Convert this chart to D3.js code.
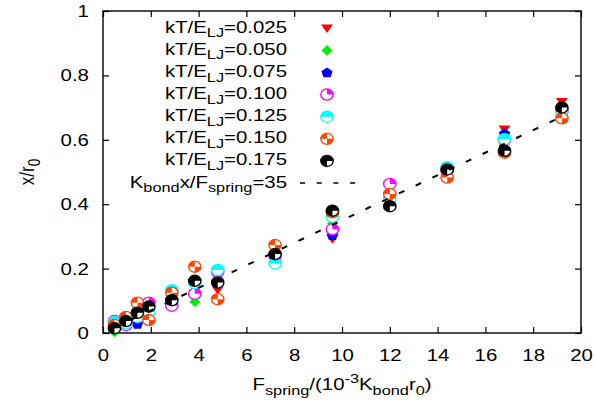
<!DOCTYPE html>
<html>
<head>
<meta charset="utf-8">
<script src="https://cdn.jsdelivr.net/npm/d3@7"></script>
<style>
  html, body { margin: 0; padding: 0; background: #fff; }
  svg { display: block; }
</style>
</head>
<body>
<svg id="chart" width="595" height="405"></svg>
<script>
// Applied spring force, in units of 1e-3 K_bond r0
const forces = [0.48, 0.96, 1.44, 1.92, 2.88, 3.84, 4.8, 7.2, 9.6, 12, 14.4, 16.8, 19.2];

// Extension x/r0 for each temperature kT/E_LJ
const ext025 = [0.015, 0.020, 0.045, 0.050, 0.085, 0.110, 0.133, 0.230, 0.292, 0.420, 0.500, 0.632, 0.718];
const ext050 = [0.003, 0.020, 0.050, 0.070, 0.100, 0.097, 0.180, 0.235, 0.340, 0.430, 0.505, 0.615, 0.700];
const ext075 = [0.020, 0.025, 0.028, 0.045, 0.100, 0.128, 0.185, 0.225, 0.304, 0.435, 0.500, 0.620, 0.700];
const ext100 = [0.037, 0.025, 0.060, 0.094, 0.085, 0.122, 0.190, 0.240, 0.322, 0.463, 0.505, 0.600, 0.690];
const ext125 = [0.034, 0.030, 0.050, 0.066, 0.133, 0.155, 0.196, 0.216, 0.361, 0.418, 0.515, 0.602, 0.687];
const ext150 = [0.025, 0.050, 0.094, 0.040, 0.125, 0.206, 0.105, 0.273, 0.375, 0.432, 0.483, 0.560, 0.667];
const ext175 = [0.015, 0.037, 0.063, 0.082, 0.102, 0.162, 0.157, 0.245, 0.380, 0.394, 0.508, 0.566, 0.700];

const temperatures = ["0.025", "0.050", "0.075", "0.100", "0.125", "0.150", "0.175"];
const extensions = [ext025, ext050, ext075, ext100, ext125, ext150, ext175];

// Linear reference: K_bond x / F_spring = 35, drawn across the sampled force range
const fitRatio = 35;
const fitForces = [0.48, 19.2];

const xTicks = [0, 2, 4, 6, 8, 10, 12, 14, 16, 18, 20];
const xTickLabels = ["0", "2", "4", "6", "8", "10", "12", "14", "16", "18", "20"];
const yTicks = [0, 0.2, 0.4, 0.6, 0.8, 1];
const yTickLabels = ["0", "0.2", "0.4", "0.6", "0.8", "1"];

// ---- styling ----
const colors = ["#ff0000", "#00ee00", "#0000ff", "#ff00ff", "#00ffff", "#ff4500", "#000000"];
const shapes = ["triDown", "diamond", "pentagon", "circTR", "circTop", "circChecker", "circThree"];
const FONT = "'Liberation Sans', Arial, Helvetica, sans-serif";
const FS = 17;       // base font size
const SX = 1.2;      // horizontal glyph stretch

const svg = d3.select("#chart");
svg.append("rect").attr("width", 595).attr("height", 405).attr("fill", "#fff");

const plot = { left: 103, right: 581, top: 11, bottom: 333 };
const x = d3.scaleLinear().domain([0, 20]).range([plot.left, plot.right]);
const y = d3.scaleLinear().domain([0, 1]).range([plot.bottom, plot.top]);

// Text with gnuplot-style sub/superscripts; parts = [[text, "sub"|"sup"|undefined], ...]
function richText(parent, parts, px, py, anchor, rotate) {
  const g = parent.append("g")
    .attr("transform", `translate(${px},${py}) scale(${SX},1)` + (rotate ? ` rotate(${rotate})` : ""));
  const t = g.append("text")
    .attr("x", 0).attr("y", 0)
    .attr("text-anchor", anchor)
    .attr("font-family", FONT)
    .attr("font-size", FS)
    .attr("fill", "#000");
  let shift = 0;
  parts.forEach(([s, kind]) => {
    let target = 0;
    if (kind === "sub") target = 0.27 * FS;
    if (kind === "sup") target = -0.42 * FS;
    const sp = t.append("tspan").attr("dy", target - shift).text(s);
    if (kind) sp.attr("font-size", FS * 0.8);
    shift = target;
  });
  return g;
}

// ---- axes (ticks point inward on all four sides) ----
const axB = svg.append("g").attr("transform", `translate(0,${plot.bottom})`)
  .call(d3.axisBottom(x).tickValues(xTicks).tickFormat((d, i) => xTickLabels[i])
    .tickSizeInner(-6).tickSizeOuter(0).tickPadding(16));
const axT = svg.append("g").attr("transform", `translate(0,${plot.top})`)
  .call(d3.axisTop(x).tickValues(xTicks).tickFormat("").tickSizeInner(-6).tickSizeOuter(0));
const axL = svg.append("g").attr("transform", `translate(${plot.left},0)`)
  .call(d3.axisLeft(y).tickValues(yTicks).tickFormat((d, i) => yTickLabels[i])
    .tickSizeInner(-6).tickSizeOuter(0).tickPadding(11.7));
const axR = svg.append("g").attr("transform", `translate(${plot.right},0)`)
  .call(d3.axisRight(y).tickValues(yTicks).tickFormat("").tickSizeInner(-6).tickSizeOuter(0));

[axB, axT, axL, axR].forEach(a => {
  a.select(".domain").remove();
  a.selectAll(".tick line").attr("stroke", "#000").attr("stroke-width", 1.2);
  a.selectAll(".tick text")
    .attr("font-family", FONT).attr("font-size", FS).attr("fill", "#000")
    .attr("transform", `scale(${SX},1)`);
});

svg.append("rect")
  .attr("x", plot.left).attr("y", plot.top)
  .attr("width", plot.right - plot.left).attr("height", plot.bottom - plot.top)
  .attr("fill", "none").attr("stroke", "#000").attr("stroke-width", 1.4);

// ---- axis titles ----
richText(svg, [["F"], ["spring", "sub"], ["/(10"], ["-3", "sup"], ["K"], ["bond", "sub"], ["r"], ["0", "sub"], [")"]],
  (plot.left + plot.right) / 2, 390, "middle");
richText(svg, [["x/r"], ["0", "sub"]], 34, (plot.top + plot.bottom) / 2, "middle", -90);

// ---- markers ----
const R = 5.6;
const arc = d3.arc().innerRadius(0).outerRadius(R);
const P = Math.PI;
const wedges = {
  circTR: [[0, P / 2]],
  circTop: [[-P / 2, P / 2]],
  circChecker: [[-P / 2, 0], [P / 2, P]],
  circThree: [[P, 2.5 * P]]
};

function marker(parent, shape, color, cx, cy) {
  const g = parent.append("g").attr("transform", `translate(${cx},${cy}) scale(1.1,1)`);
  if (shape === "triDown") {
    g.append("path").attr("d", "M-5.4,-3.9 L5.4,-3.9 L0,4.7 Z").attr("fill", color);
  } else if (shape === "diamond") {
    g.append("path").attr("d", "M0,-5.3 L4.9,0 L0,5.3 L-4.9,0 Z").attr("fill", color);
  } else if (shape === "pentagon") {
    const pts = d3.range(5).map(k => {
      const a = -P / 2 + k * 2 * P / 5;
      return [5.4 * Math.cos(a), 5.4 * Math.sin(a) + 0.5];
    });
    g.append("path").attr("d", "M" + pts.map(p => p.join(",")).join("L") + "Z").attr("fill", color);
  } else {
    g.append("circle").attr("r", R).attr("fill", "#fff");
    wedges[shape].forEach(([a0, a1]) => {
      g.append("path").attr("d", arc({ startAngle: a0, endAngle: a1 })).attr("fill", color);
    });
    g.append("circle").attr("r", R).attr("fill", "none").attr("stroke", color).attr("stroke-width", 1.3);
  }
}

const pts = svg.append("g");
extensions.forEach((vals, s) => {
  vals.forEach((v, i) => marker(pts, shapes[s], colors[s], x(forces[i]), y(v)));
});

// reference line x/r0 = ratio * 1e-3 * F
svg.append("path")
  .datum(fitForces)
  .attr("d", d3.line().x(f => x(f)).y(f => y(fitRatio * 1e-3 * f)))
  .attr("fill", "none").attr("stroke", "#000").attr("stroke-width", 2)
  .attr("stroke-dasharray", "6,12.5");

// ---- legend ----
const legTextX = 287, legSymX = 327, legY0 = 28.3, legDY = 22.1;
temperatures.forEach((tval, s) => {
  const yy = legY0 + s * legDY;
  richText(svg, [["kT/E"], ["LJ", "sub"], ["=" + tval]], legTextX, yy + 4.5, "end");
  marker(svg, shapes[s], colors[s], legSymX, yy);
});
{
  const yy = legY0 + 7 * legDY;
  richText(svg, [["K"], ["bond", "sub"], ["x/F"], ["spring", "sub"], ["=" + fitRatio]], legTextX, yy + 4.5, "end");
  svg.append("line")
    .attr("x1", 300).attr("x2", 356).attr("y1", yy).attr("y2", yy)
    .attr("stroke", "#000").attr("stroke-width", 1.6).attr("stroke-dasharray", "5,11.7");
}
</script>
</body>
</html>
